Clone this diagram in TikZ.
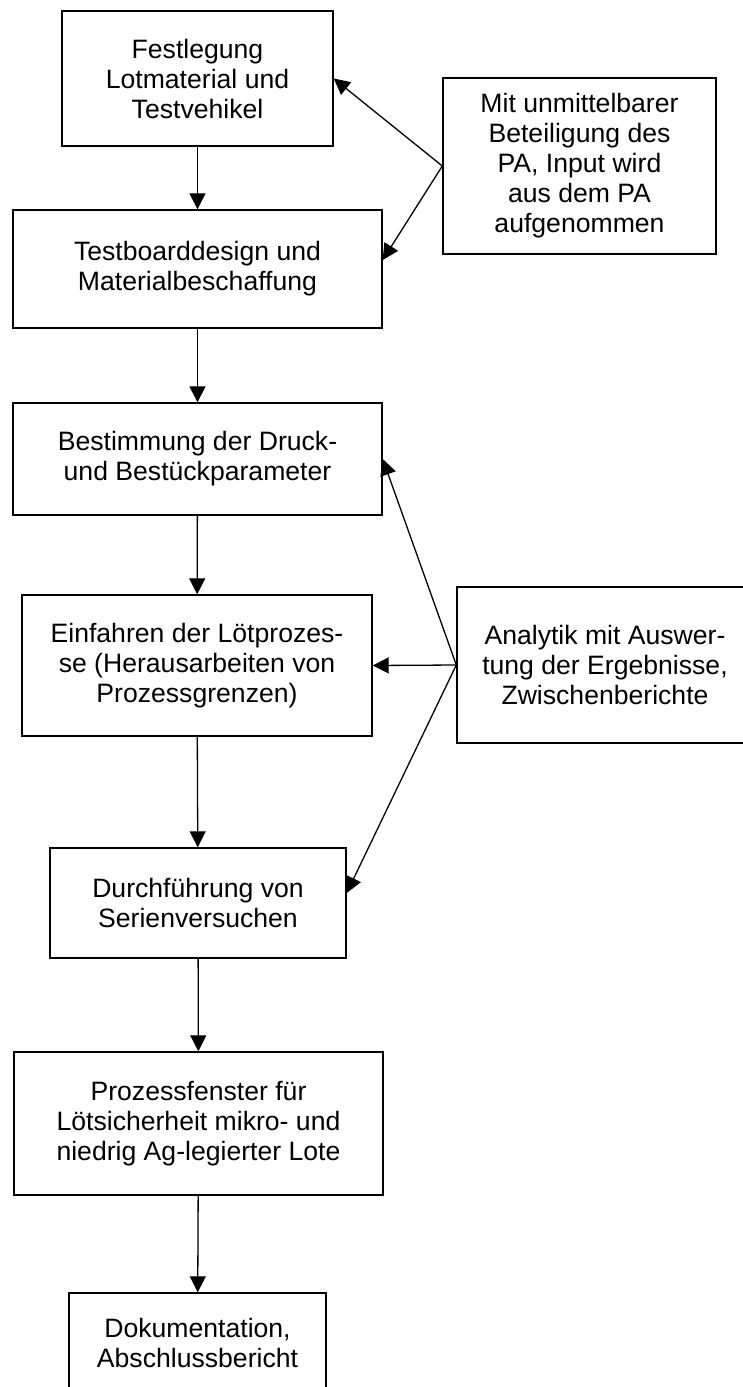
\documentclass[tikz,border=0pt]{standalone}
\usepackage{fontspec}
\setmainfont{Liberation Sans}
\usepackage{tikz}
\usetikzlibrary{arrows.meta}

\tikzset{
    box/.style={draw, line width=0.7pt, align=center, inner sep=0pt,
        font=\fontsize{13.3}{15}\selectfont},
    flow/.style={line width=0.65pt, -{Triangle[length=8pt,width=8pt]}}
}

\begin{document}
\begin{tikzpicture}[x=0.5pt, y=-0.5pt]
    \useasboundingbox (0,0) rectangle (743,1387);
    \node[box, minimum width=135.5pt, minimum height=67.5pt] (festlegung) at (197.5,78.5) {Festlegung\\Lotmaterial und\\Testvehikel};
    \node[box, minimum width=184.5pt, minimum height=59pt] (testboard) at (197.5,269) {Testboarddesign und\\Materialbeschaffung};
    \node[box, minimum width=184.5pt, minimum height=56pt] (druck) at (197.5,459) {Bestimmung der Druck-\\und Bestückparameter};
    \node[box, minimum width=175pt, minimum height=70.5pt] (loet) at (197,665.5) {Einfahren der Lötprozes-\\se (Herausarbeiten von\\Prozessgrenzen)};
    \node[box, minimum width=148pt, minimum height=55pt] (serie) at (198,903) {Durchführung von\\Serienversuchen};
    \node[box, minimum width=184.5pt, minimum height=71.5pt] (fenster) at (198.5,1123.5) {Prozessfenster für\\Lötsicherheit mikro- und\\niedrig Ag-legierter Lote};
    \node[box, minimum width=128.5pt, minimum height=49.5pt] (doku) at (197.5,1342.5) {Dokumentation,\\Abschlussbericht};
    \node[box, minimum width=136.5pt, minimum height=88pt] (pa) at (579.5,166) {Mit unmittelbarer\\Beteiligung des\\PA, Input wird\\aus dem PA\\aufgenommen};
    \node[box, minimum width=148pt, minimum height=78pt] (analytik) at (605,665) {Analytik mit Auswer-\\tung der Ergebnisse,\\Zwischenberichte};

    \draw[flow] (festlegung) -- (testboard);
    \draw[flow] (testboard) -- (druck);
    \draw[flow] (druck) -- (loet);
    \draw[flow] (loet) -- (serie);
    \draw[flow] (serie) -- (fenster);
    \draw[flow] (fenster) -- (doku);

    \draw[flow] (pa.west) -- (festlegung.east);
    \draw[flow] (pa.west) -- ([yshift=4.5pt]testboard.east);
    \draw[flow] (analytik.west) -- (druck.east);
    \draw[flow] (analytik.west) -- (loet.east);
    \draw[flow] (analytik.west) -- ([yshift=5pt]serie.east);
\end{tikzpicture}
\end{document}
